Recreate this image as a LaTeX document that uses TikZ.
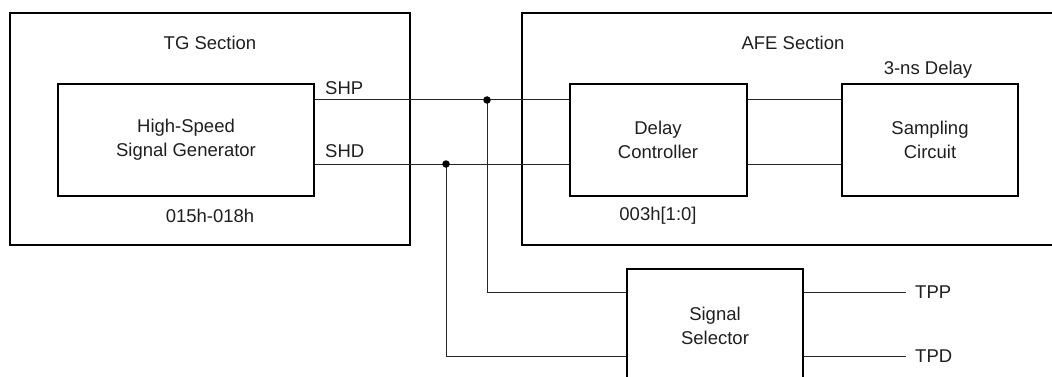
\documentclass[tikz,border=0pt]{standalone}
\usepackage{fontspec}
\setmainfont{Liberation Sans}
\begin{document}
\begin{tikzpicture}[x=1pt,y=-1pt,
  every node/.style={font=\fontsize{18.5}{24}\selectfont, text=black!88},
  blk/.style={draw=black, line width=2pt, align=center, inner sep=0pt},
  wire/.style={line width=1pt, draw=black!85},
  lbl/.style={inner sep=0pt, align=center},
  dotj/.style={circle, fill=black, inner sep=0pt, minimum size=7.5pt}]
\useasboundingbox (0,0) rectangle (1052,377);
\clip (0,0) rectangle (1052,377);
% frames
\node[blk, minimum width=400, minimum height=232] (tg) at (210,129) {};
\node[blk, minimum width=560, minimum height=232] (afe) at (802,129) {};
\node[blk, minimum width=256, minimum height=112] (gen) at (186,140) {High-Speed\\Signal Generator};
\node[blk, minimum width=177, minimum height=112] (dc) at (658,140) {Delay\\Controller};
\node[blk, minimum width=176, minimum height=112] (sc) at (930,140) {Sampling\\Circuit};
\node[blk, minimum width=176, minimum height=151] (sel) at (715,344.5) {};
\node[lbl] (seltxt) at (715,326) {Signal\\Selector};
% labels
\node[lbl] (tgt) at (210,43) {TG Section};
\node[lbl] (afet) at (793,43) {AFE Section};
\node[lbl] (dly) at (928,70) {3-ns Delay};
\node[lbl] (r1) at (210,216) {015h-018h};
\node[lbl] (r2) at (658,216) {003h[1:0]};
\node[lbl, anchor=west] (shp) at (325,88) {SHP};
\node[lbl, anchor=west] (shd) at (325,151) {SHD};
\node[anchor=west, inner sep=9pt] (tpp) at (906,292) {TPP};
\node[anchor=west, inner sep=9pt] (tpd) at (906,356) {TPD};
% reference levels
\coordinate (yP) at (0,100);
\coordinate (yD) at (0,164);
\coordinate (jP) at (487,100);
\coordinate (jD) at (446,164);
% connectors
\draw[wire] (gen.east |- yP) -- (dc.west |- yP);
\draw[wire] (gen.east |- yD) -- (dc.west |- yD);
\draw[wire] (dc.east |- yP) -- (sc.west |- yP);
\draw[wire] (dc.east |- yD) -- (sc.west |- yD);
\draw[wire] (jP) |- (sel.west |- tpp);
\draw[wire] (jD) |- (sel.west |- tpd);
\draw[wire] (sel.east |- tpp) -- (tpp.west);
\draw[wire] (sel.east |- tpd) -- (tpd.west);
\node[dotj] (dP) at (jP) {};
\node[dotj] (dD) at (jD) {};
\end{tikzpicture}
\end{document}
